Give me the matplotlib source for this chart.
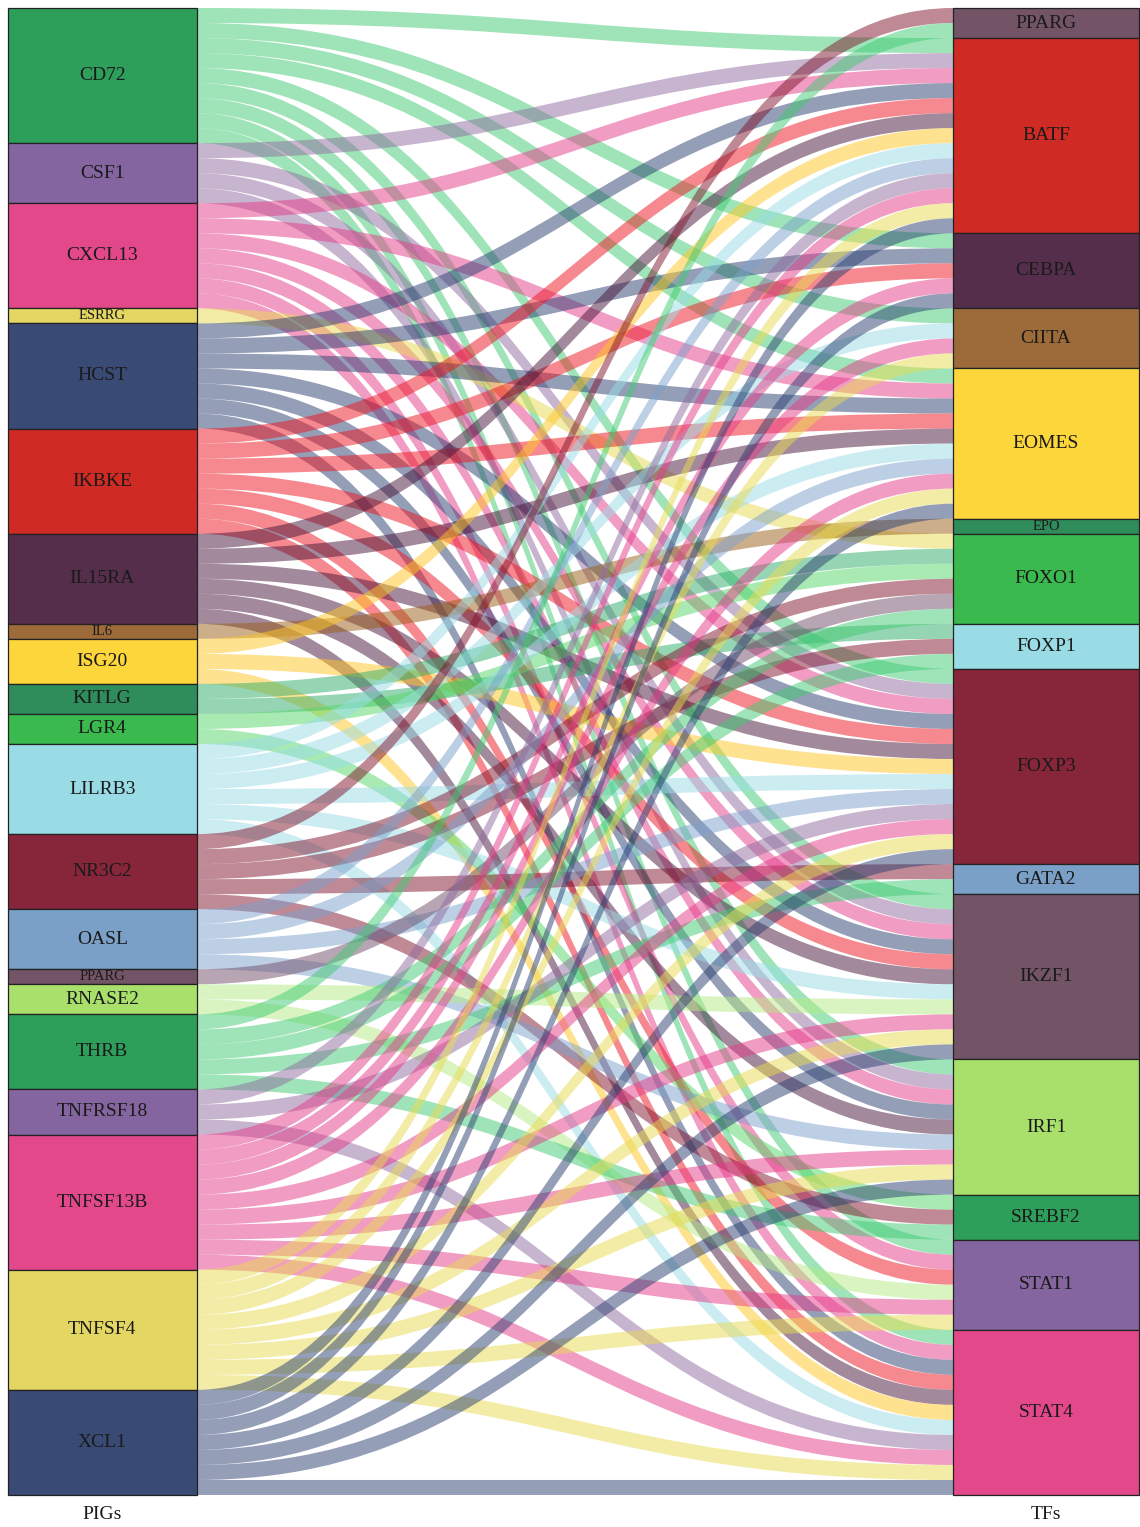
import matplotlib
matplotlib.use("Agg")
import matplotlib.pyplot as plt
from matplotlib.path import Path
from matplotlib.patches import PathPatch, Rectangle

# ---------------- data ----------------
pigs = ["CD72", "CSF1", "CXCL13", "ESRRG", "HCST", "IKBKE", "IL15RA", "IL6",
        "ISG20", "KITLG", "LGR4", "LILRB3", "NR3C2", "OASL", "PPARG", "RNASE2",
        "THRB", "TNFRSF18", "TNFSF13B", "TNFSF4", "XCL1"]
tfs = ["PPARG", "BATF", "CEBPA", "CIITA", "EOMES", "EPO", "FOXO1", "FOXP1",
       "FOXP3", "GATA2", "IKZF1", "IRF1", "SREBF2", "STAT1", "STAT4"]

# sources (PIGs) linked to each TF
src_PPARG = ["NR3C2", "THRB"]
src_BATF = ["CD72", "CSF1", "CXCL13", "HCST", "IKBKE", "IL15RA", "ISG20", "LILRB3",
            "OASL", "TNFRSF18", "TNFSF13B", "TNFSF4", "XCL1"]
src_CEBPA = ["CD72", "HCST", "IKBKE", "TNFSF13B", "XCL1"]
src_CIITA = ["CD72", "LILRB3", "TNFSF13B", "TNFSF4"]
src_EOMES = ["CD72", "CXCL13", "HCST", "IKBKE", "IL15RA", "LILRB3", "OASL",
             "TNFSF13B", "TNFSF4", "XCL1"]
src_EPO = ["IL6"]
src_FOXO1 = ["ESRRG", "KITLG", "LGR4", "NR3C2", "PPARG", "THRB"]
src_FOXP1 = ["KITLG", "NR3C2", "THRB"]
src_FOXP3 = ["CD72", "CSF1", "CXCL13", "HCST", "IKBKE", "IL15RA", "ISG20", "LILRB3",
             "OASL", "TNFRSF18", "TNFSF13B", "TNFSF4", "XCL1"]
src_GATA2 = ["NR3C2", "THRB"]
src_IKZF1 = ["CD72", "CSF1", "CXCL13", "HCST", "IKBKE", "IL15RA", "LILRB3", "RNASE2",
             "TNFSF13B", "TNFSF4", "XCL1"]
src_IRF1 = ["CD72", "CSF1", "CXCL13", "HCST", "IL15RA", "OASL", "TNFSF13B",
            "TNFSF4", "XCL1"]
src_SREBF2 = ["LGR4", "NR3C2", "THRB"]
src_STAT1 = ["CD72", "CXCL13", "IKBKE", "RNASE2", "TNFSF13B", "TNFSF4"]
src_STAT4 = ["CD72", "CXCL13", "HCST", "IKBKE", "IL15RA", "ISG20", "LILRB3",
             "TNFRSF18", "TNFSF13B", "TNFSF4", "XCL1"]

sources_by_tf = [src_PPARG, src_BATF, src_CEBPA, src_CIITA, src_EOMES, src_EPO,
                 src_FOXO1, src_FOXP1, src_FOXP3, src_GATA2, src_IKZF1, src_IRF1,
                 src_SREBF2, src_STAT1, src_STAT4]

# 16-colour cycle: stratum fill and flow fill
stratum_palette = ["#2E9E5B", "#8565A0", "#E2488A", "#E3D662", "#394A74", "#CF2A23",
                   "#552E4B", "#9C6B39", "#FDD63B", "#2E8D5B", "#39B94E", "#99DCE5",
                   "#87263A", "#7AA0C8", "#725466", "#A8E06B"]
flow_palette = ["#41CB73", "#916DA1", "#E53B89", "#E9DB51", "#2B3F71", "#EF1521",
                "#471539", "#9B5F19", "#FFC723", "#2FAD69", "#53D765", "#99DDE7",
                "#81152D", "#7DA1CB", "#714D69", "#B5EB85"]

# ---------------- layout ----------------
W_PX, H_PX = 1140, 1527
fig = plt.figure(figsize=(W_PX / 100, H_PX / 100), dpi=100)
ax = fig.add_axes([0, 0, 1, 1])
xs = 942.5
ax.set_xlim(0.9 - 8 / xs, 2.1 + 1 / xs)
ys = 1487 / 99.0
ax.set_ylim(-(H_PX - 1495) / ys, 99 + 8 / ys)
ax.axis("off")

names = pigs + [t for t in tfs if t not in pigs]
def col(name, pal):
    return pal[names.index(name) % 16]

links = [(s, t) for t, srcs in zip(tfs, sources_by_tf) for s in srcs]
total = len(links)

pig_count = {p: sum(1 for s, _ in links if s == p) for p in pigs}
tf_count = {t: len(s) for t, s in zip(tfs, sources_by_tf)}

pig_top = {}
y = total
for p in pigs:
    pig_top[p] = y
    y -= pig_count[p]
tf_top = {}
y = total
for t in tfs:
    tf_top[t] = y
    y -= tf_count[t]

# left ends: within each PIG ordered by TF; right ends: within each TF ordered by PIG
left_pos = {}
for p in pigs:
    y = pig_top[p]
    for t in tfs:
        for (s, tt) in links:
            if s == p and tt == t:
                left_pos[(s, tt)] = y
                y -= 1
right_pos = {}
for t in tfs:
    y = tf_top[t]
    for p in pigs:
        for (s, tt) in links:
            if s == p and tt == t:
                right_pos[(s, tt)] = y
                y -= 1

left_x0, left_x1 = 0.9, 1.1
right_x0, right_x1 = 1.9 + 2.5 / xs, 2.1
x0, x1 = left_x1, right_x0
k = 0.47
d = x1 - x0
order = sorted(links, key=lambda l: (pigs.index(l[0]), tfs.index(l[1])))
for (s, t) in order:
    yl, yr = left_pos[(s, t)], right_pos[(s, t)]
    verts = [(x0, yl), (x0 + k * d, yl), (x1 - k * d, yr), (x1, yr),
             (x1, yr - 1),
             (x1 - k * d, yr - 1), (x0 + k * d, yl - 1), (x0, yl - 1),
             (x0, yl)]
    codes = [Path.MOVETO, Path.CURVE4, Path.CURVE4, Path.CURVE4,
             Path.LINETO,
             Path.CURVE4, Path.CURVE4, Path.CURVE4,
             Path.CLOSEPOLY]
    ax.add_patch(PathPatch(Path(verts, codes), facecolor=col(s, flow_palette),
                           alpha=0.5, lw=0, zorder=1))

font = "Liberation Serif"
def stratum(xa, xb, top, n, name):
    ax.add_patch(Rectangle((xa, top - n), xb - xa, n,
                           facecolor=col(name, stratum_palette),
                           edgecolor="#222222", lw=0.9, zorder=3))
    fs = 10.5 if n == 1 else 14
    ax.text((xa + xb) / 2, top - n / 2, name, ha="center", va="center", fontsize=fs,
            family=font, color="#1a1a1a", zorder=4)

for p in pigs:
    stratum(left_x0, left_x1, pig_top[p], pig_count[p], p)
for t in tfs:
    stratum(right_x0, right_x1, tf_top[t], tf_count[t], t)

ax.text((left_x0 + left_x1) / 2, -1.33, "PIGs", ha="center", va="center",
        fontsize=14, family=font, color="#1a1a1a")
ax.text((right_x0 + right_x1) / 2, -1.33, "TFs", ha="center", va="center",
        fontsize=14, family=font, color="#1a1a1a")

fig.savefig("out.png", dpi=100)
